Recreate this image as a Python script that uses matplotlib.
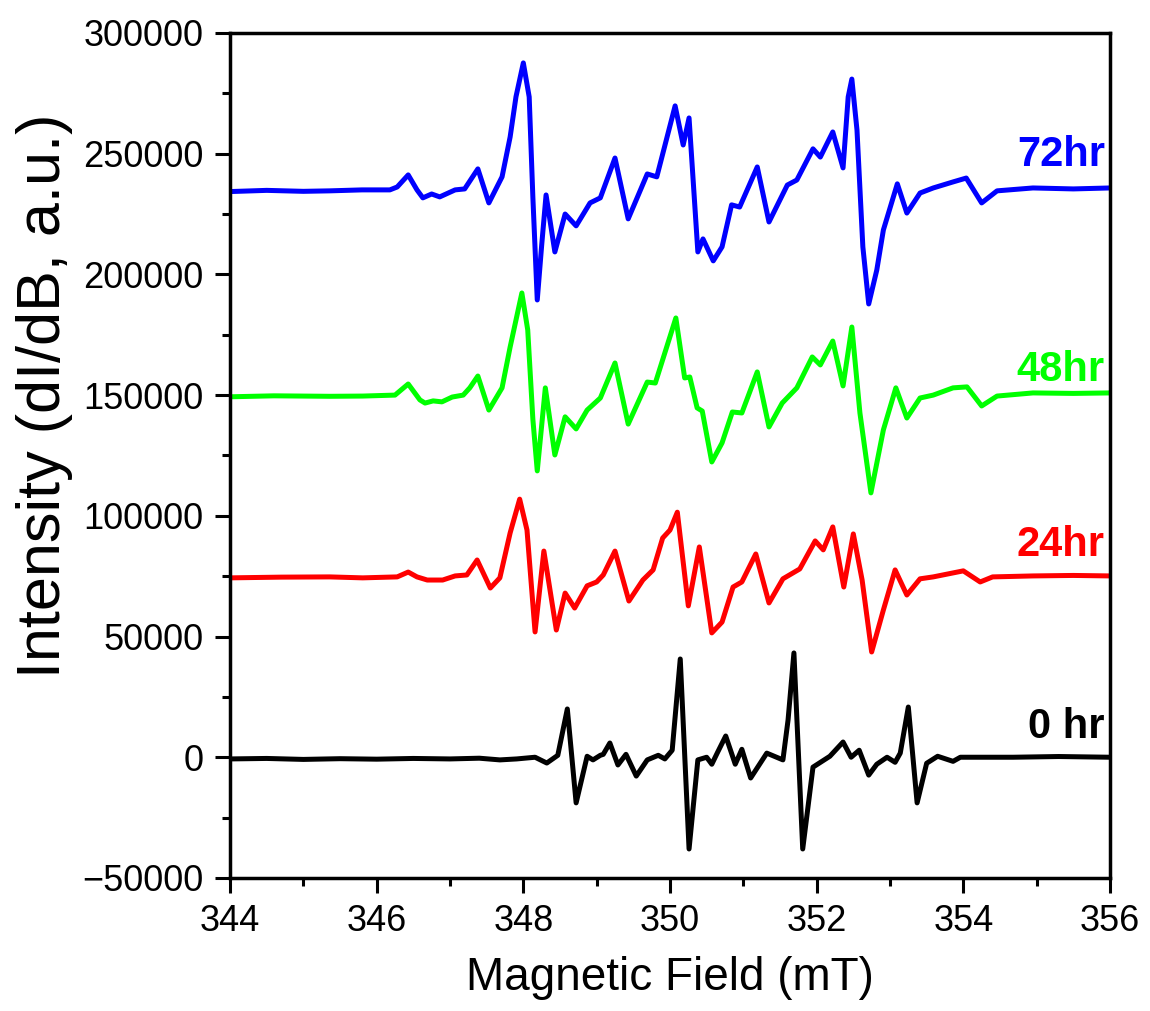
import numpy as np
import matplotlib
matplotlib.use("Agg")
import matplotlib.pyplot as plt
from matplotlib.ticker import MultipleLocator

# EPR spectra (field in mT, intensity in a.u.)
field_72 = [344.00, 344.50, 345.00, 345.36, 345.80, 346.18, 346.28, 346.43, 346.55, 346.63,
            346.75, 346.86, 347.07, 347.20, 347.38, 347.53, 347.71, 347.82, 347.90, 348.00,
            348.08, 348.13, 348.19, 348.25, 348.31, 348.43, 348.57, 348.72, 348.91, 349.05,
            349.25, 349.43, 349.69, 349.82, 350.07, 350.18, 350.26, 350.38, 350.45, 350.59,
            350.71, 350.84, 350.95, 351.19, 351.35, 351.60, 351.73, 351.95, 352.05, 352.22,
            352.36, 352.43, 352.48, 352.55, 352.63, 352.71, 352.82, 352.91, 353.10, 353.23,
            353.41, 353.59, 353.86, 354.04, 354.25, 354.46, 354.95, 355.50, 356.00]
int_72 = [234300, 234800, 234400, 234600, 235000, 235000, 236200, 241200, 235000, 231700,
          233300, 232100, 235000, 235400, 243700, 229600, 240400, 256900, 273600, 287600,
          273500, 232000, 189400, 212000, 232900, 209300, 225000, 220100, 229600, 231700,
          248200, 223000, 241600, 240400, 269800, 253600, 264800, 209300, 214700, 205600,
          211400, 228800, 227900, 244500, 221700, 237000, 239100, 252000, 248600, 259000,
          244100, 273500, 280900, 259800, 211400, 187750, 201800, 218400, 237500, 225400,
          233700, 235800, 238300, 239900, 229600, 234600, 235800, 235400, 235800]

field_48 = [344.00, 344.60, 345.36, 345.81, 346.25, 346.43, 346.59, 346.66, 346.77, 346.89,
            347.03, 347.18, 347.27, 347.38, 347.53, 347.71, 347.82, 347.98, 348.06, 348.13,
            348.19, 348.30, 348.43, 348.57, 348.72, 348.87, 349.05, 349.25, 349.43, 349.69,
            349.80, 350.08, 350.20, 350.27, 350.37, 350.44, 350.57, 350.71, 350.85, 350.98,
            351.19, 351.35, 351.53, 351.73, 351.94, 352.05, 352.22, 352.36, 352.48, 352.59,
            352.74, 352.91, 353.08, 353.23, 353.41, 353.59, 353.86, 354.05, 354.25, 354.46,
            354.95, 355.50, 356.00]
int_48 = [149300, 149700, 149500, 149600, 150000, 154600, 148000, 146700, 147600, 147200,
          149200, 150000, 153000, 157900, 143800, 153000, 169900, 192300, 177000, 140000,
          118600, 153000, 125200, 141000, 136000, 143800, 148800, 163300, 138000, 155400,
          155000, 181950, 157100, 157500, 144700, 143400, 122300, 130200, 143000, 142600,
          159600, 136800, 146700, 153000, 165800, 162500, 172400, 153800, 178200, 142600,
          109500, 135600, 153000, 140500, 148800, 150000, 153000, 153400, 145500, 149600,
          150900, 150700, 150900]

field_24 = [344.00, 344.70, 345.36, 345.81, 346.28, 346.43, 346.55, 346.69, 346.90, 347.07,
            347.23, 347.37, 347.55, 347.68, 347.82, 347.95, 348.05, 348.16, 348.28, 348.45,
            348.57, 348.70, 348.87, 349.00, 349.09, 349.25, 349.44, 349.63, 349.77, 349.90,
            350.00, 350.10, 350.25, 350.40, 350.57, 350.71, 350.86, 350.98, 351.17, 351.35,
            351.54, 351.77, 351.98, 352.09, 352.22, 352.37, 352.50, 352.62, 352.75, 352.91,
            353.07, 353.23, 353.41, 353.59, 354.00, 354.23, 354.40, 354.95, 355.50, 356.00]
int_24 = [74300, 74600, 74700, 74300, 74700, 76700, 74700, 73400, 73400, 75100,
          75500, 81700, 70100, 74300, 92900, 106900, 94100, 51900, 85400, 52700,
          68000, 61800, 71000, 72600, 75500, 85400, 64700, 73400, 77600, 90800,
          94100, 101500, 62700, 87100, 51500, 56000, 70500, 72600, 84200, 63900,
          73900, 78000, 89600, 85900, 95400, 70500, 92500, 73400, 43600, 61000,
          77600, 67200, 73900, 74700, 77200, 72600, 74700, 75100, 75300, 75100]

field_0 = [344.00, 344.50, 345.00, 345.50, 346.00, 346.50, 347.00, 347.40, 347.68, 347.91,
           348.16, 348.32, 348.47, 348.60, 348.72, 348.87, 348.95, 349.05, 349.09, 349.18,
           349.29, 349.40, 349.54, 349.69, 349.84, 349.93, 350.03, 350.14, 350.26, 350.38,
           350.50, 350.57, 350.65, 350.76, 350.89, 350.98, 351.10, 351.32, 351.54, 351.61,
           351.69, 351.81, 351.95, 352.18, 352.36, 352.47, 352.58, 352.71, 352.82, 352.96,
           353.07, 353.14, 353.25, 353.37, 353.50, 353.65, 353.86, 353.96, 354.68, 355.30,
           356.00]
int_0 = [-700, -500, -900, -600, -800, -500, -700, -400, -1100, -700,
         0, -2400, 800, 20000, -18900, 400, -1100, 800, 1200, 5900,
         -3200, 1200, -7800, -1100, 800, -700, 2900, 40700, -38000, -1100,
         0, -2900, 2100, 8800, -2900, 3300, -8600, 1700, -1100, 15400,
         43200, -38000, -4100, 400, 6300, 0, 2900, -7400, -2900, 0,
         -2100, 1700, 20800, -18900, -2500, 400, -1700, 0, 0, 300,
         0]

labels = ["72hr", "48hr", "24hr", "0 hr"]
label_y = [249500, 160400, 87900, 12550]
colors = ["#0000ff", "#00ff00", "#ff0000", "#000000"]

plt.rcParams['font.family'] = ['Liberation Sans', 'DejaVu Sans']

fig = plt.figure(figsize=(11.5, 10.11), dpi=100)
ax = fig.add_axes([0.2, 0.1316, 0.7652, 0.8358])

series = [(field_72, int_72), (field_48, int_48), (field_24, int_24), (field_0, int_0)]
for (xs, ys), c in zip(series, colors):
    ax.plot(xs, ys, color=c, lw=3.6, solid_joinstyle='round')

for lab, yy, c in zip(labels, label_y, colors):
    ax.text(355.93, yy, lab, color=c, fontsize=30, fontweight='bold',
            ha='right', va='center')

ax.set_xlim(344, 356)
ax.set_ylim(-50000, 300000)
ax.xaxis.set_major_locator(MultipleLocator(2))
ax.xaxis.set_minor_locator(MultipleLocator(1))
ax.yaxis.set_major_locator(MultipleLocator(50000))
ax.yaxis.set_minor_locator(MultipleLocator(25000))

ax.tick_params(which='both', direction='out', width=2.2, top=False, right=False,
               labelsize=26)
ax.tick_params(which='major', length=11, pad=8)
ax.tick_params(which='minor', length=6)
for sp in ax.spines.values():
    sp.set_linewidth(2.5)

ax.set_xlabel("Magnetic Field (mT)", fontsize=33, labelpad=12)
ax.set_ylabel("Intensity (dI/dB, a.u.)", fontsize=44)
ax.yaxis.set_label_coords(-0.178, 0.57)

fig.savefig("out.png", dpi=100)
